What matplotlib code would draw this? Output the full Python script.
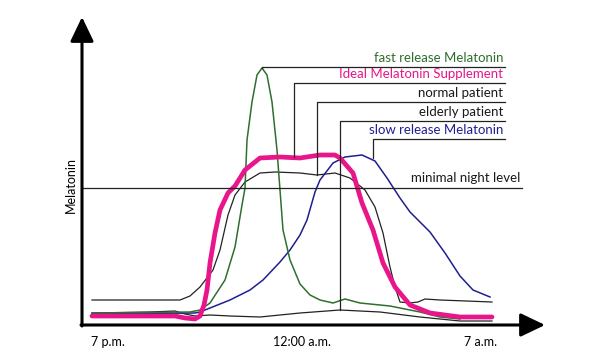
import matplotlib
matplotlib.use('Agg')
import matplotlib.pyplot as plt

# Time runs along x (arbitrary units, 7 p.m. -> 7 a.m.), melatonin level along y.
TICK_POS = [26, 220, 399]
TICK_LABELS = ['7 p.m.', '12:00 a.m.', '7 a.m.']

normal_x = [10, 98, 108, 118, 131, 138, 146, 153, 163, 178, 193, 218, 235, 253, 268,
            283, 293, 301, 308, 313, 318, 328, 336, 343, 358, 410]
normal_y = [25, 25, 29, 38, 55, 75, 110, 130, 143, 152, 153, 152, 150, 152, 147,
            135, 118, 92, 58, 38, 23, 22, 23, 26, 25, 23]

elderly_x = [10, 68, 93, 103, 113, 128, 148, 178, 218, 258, 298, 338, 378, 410]
elderly_y = [12, 13, 14, 11, 9, 10, 9, 8, 12, 15, 13, 8, 4, 4]

fast_x = [10, 108, 118, 128, 143, 153, 160, 163, 165, 170, 175, 180, 185, 190, 195,
          198, 201, 208, 218, 228, 238, 251, 263, 278, 308, 338, 358, 378]
fast_y = [12, 13, 15, 22, 45, 78, 120, 137, 185, 223, 250, 257, 250, 223, 175,
          135, 95, 65, 41, 30, 25, 22, 26, 22, 19, 13, 8, 6]

slow_x = [10, 113, 118, 128, 148, 168, 181, 198, 208, 218, 225, 233, 238, 251, 263,
          280, 293, 305, 318, 328, 348, 363, 378, 391, 408]
slow_y = [11, 12, 13, 17, 25, 35, 45, 63, 75, 90, 105, 133, 145, 162, 168,
          170, 164, 147, 127, 113, 93, 72, 49, 35, 28]

ideal_x = [10, 68, 93, 103, 113, 118, 122, 125, 128, 133, 138, 146, 153, 163, 178,
           198, 218, 238, 253, 258, 271, 280, 291, 301, 313, 328, 348, 378, 410]
ideal_y = [9, 9, 9, 7, 6, 9, 20, 35, 62, 92, 115, 132, 139, 155, 167,
           168, 167, 170, 170, 167, 152, 122, 95, 62, 38, 20, 12, 8, 8]

MIN_NIGHT_LEVEL = 137

# legend labels, colours, where the leader touches the curve, leader height
labels = ['fast release Melatonin', 'Ideal Melatonin Supplement', 'normal patient',
          'elderly patient', 'slow release Melatonin']
label_colors = ['#2f6f2f', '#e8168a', '#1a1a1a', '#1a1a1a', '#1f1f8f']
anchor_x = [180, 212, 235, 258, 291]
anchor_y = [257, 168, 150, 15, 167]
leader_y = [258, 242, 223, 204, 186]
LEADER_END = 423

GREEN = '#2f6f2f'
PINK = '#e8168a'
NAVY = '#1f1f8f'

plt.rcParams['font.family'] = ['Lato', 'DejaVu Sans']

fig = plt.figure(figsize=(5.99, 3.62), dpi=100)
ax = fig.add_axes([82 / 599, 37 / 362, 463 / 599, 308 / 362])
ax.set_xlim(0, 463)
ax.set_ylim(0, 308)
for s in ax.spines.values():
    s.set_visible(False)
ax.set_yticks([])
ax.set_xticks(TICK_POS)
ax.set_xticklabels(TICK_LABELS, fontsize=9)
ax.tick_params(axis='x', length=0, pad=8)

# curves
ax.plot(elderly_x, elderly_y, color='#222222', lw=0.9)
ax.plot(normal_x, normal_y, color='#222222', lw=0.9)
ax.plot(slow_x, slow_y, color=NAVY, lw=1.1)
ax.plot(fast_x, fast_y, color=GREEN, lw=1.1)
ax.plot(ideal_x, ideal_y, color=PINK, lw=3.4, solid_capstyle='round', solid_joinstyle='round')

# minimal night level
ax.plot([0, 440], [MIN_NIGHT_LEVEL, MIN_NIGHT_LEVEL], color='#222222', lw=0.9)
ax.text(438, MIN_NIGHT_LEVEL + 4, 'minimal night level', ha='right', va='bottom',
        fontsize=9.5, color='#1a1a1a')

# leaders + labels
for lab, col, axx, ayy, ly in zip(labels, label_colors, anchor_x, anchor_y, leader_y):
    ax.plot([axx, axx, LEADER_END], [ayy, ly, ly], color='#222222', lw=0.9)
    ax.text(LEADER_END - 2, ly + 3, lab, ha='right', va='bottom', fontsize=9.5, color=col)

# axis arrows
arrow = dict(arrowstyle='-|>,head_length=1.0,head_width=0.48', lw=2.2, color='black',
             mutation_scale=15, shrinkA=0, shrinkB=0)
ax.annotate('', xy=(0, 308), xytext=(0, -1), arrowprops=arrow, annotation_clip=False)
ax.annotate('', xy=(463, 0), xytext=(-1, 0), arrowprops=arrow, annotation_clip=False)

ax.text(-11, 140, 'Melatonin', rotation=90, ha='center', va='center', fontsize=9)

fig.savefig('out.png', dpi=100)
